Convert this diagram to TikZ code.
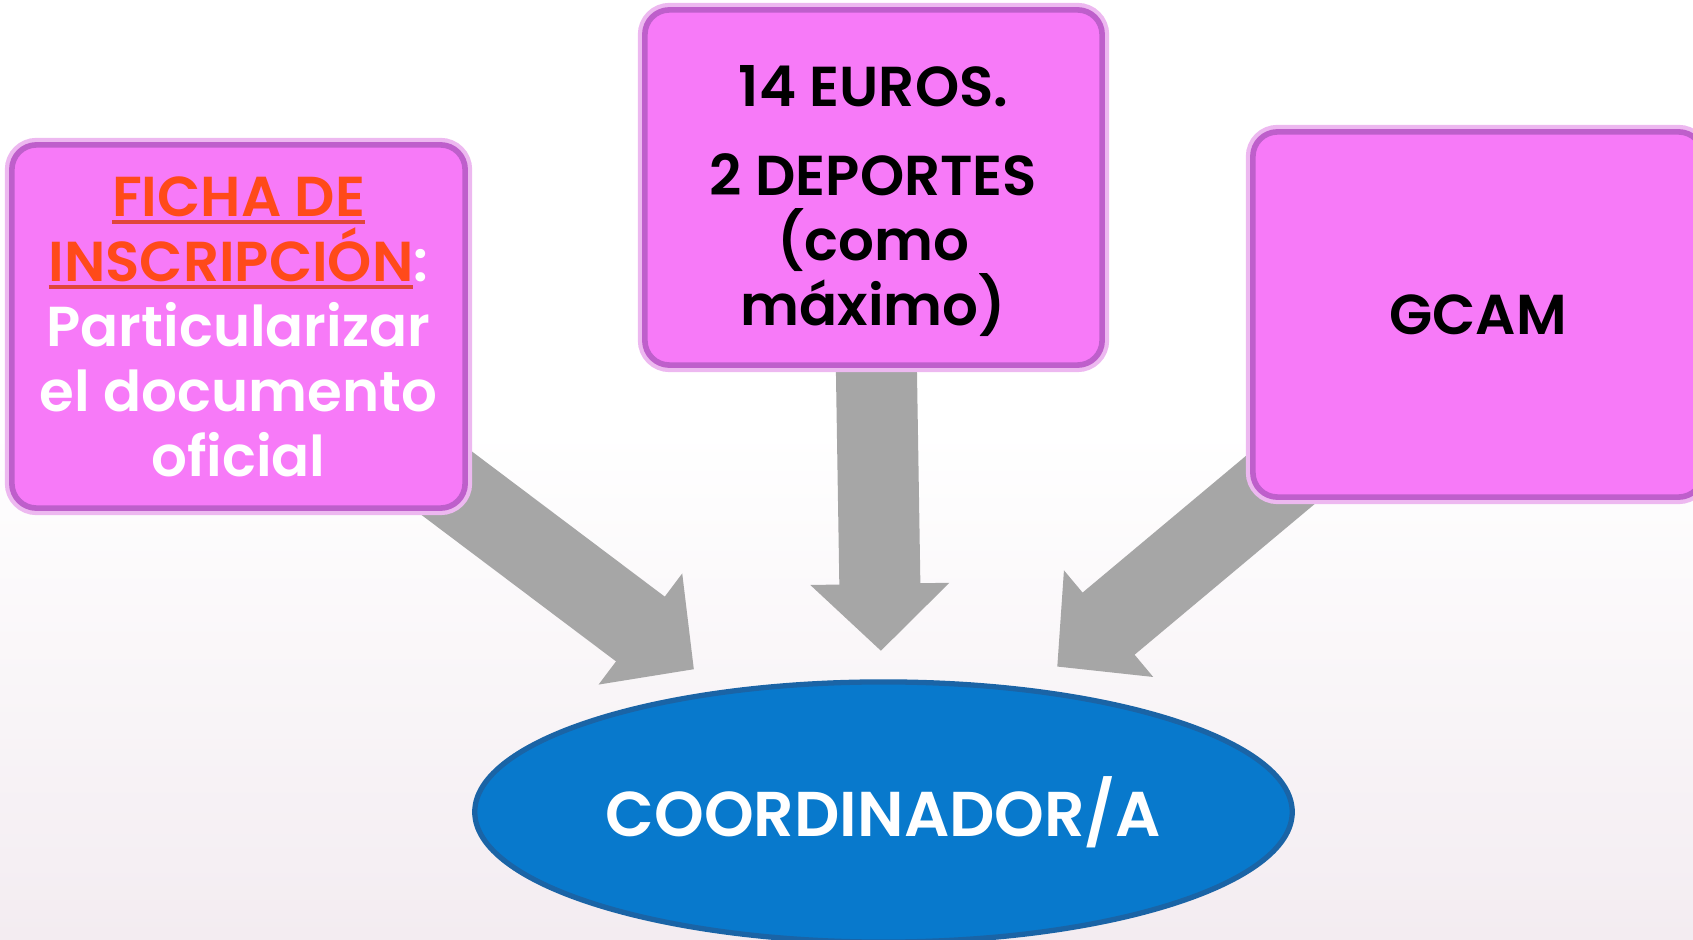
\documentclass[tikz,border=0pt]{standalone}
\usepackage{fontspec}
\setmainfont{Poppins}[BoldFont={Poppins SemiBold}]
\usepackage{tikz}
\usetikzlibrary{arrows.meta,positioning,shapes.geometric,backgrounds}
\definecolor{boxpink}{HTML}{F77AF8}
\definecolor{boxrim}{HTML}{BE5FCB}
\definecolor{boxhalo}{HTML}{EDB8F0}
\definecolor{coordblue}{HTML}{0879CC}
\definecolor{coordrim}{HTML}{1A64A6}
\definecolor{arrowgray}{HTML}{A6A6A6}
\definecolor{fichared}{HTML}{FF4A1A}
\definecolor{fichaline}{HTML}{E0453C}
\definecolor{hazefloor}{HTML}{F3ECF1}
\newcommand\fichaul[1]{\setbox0\hbox{#1}\rlap{\color{fichaline}\rule[-0.08cm]{\wd0}{0.045cm}}\box0}
\tikzset{
  card/.style={draw=boxrim,line width=1.6pt,fill=boxpink,rounded corners=7pt,
    align=center,inner sep=0pt,outer sep=0pt,
    font=\bfseries\fontsize{16}{18.5}\selectfont,
    preaction={draw=boxhalo,line width=4pt}},
  hub/.style={ellipse,draw=coordrim,line width=1.5pt,fill=coordblue,text=white,
    inner sep=0pt,outer sep=0pt,minimum width=8.17cm,minimum height=2.60cm,
    font=\bfseries\fontsize{18}{20}\selectfont},
  bigarrow/.style={draw=arrowgray,line width=0.81cm,-{Triangle[length=0.67cm,width=1.35cm]}}
}

\begin{document}
\begin{tikzpicture}[x=0.01cm,y=-0.01cm]
  \useasboundingbox (0,0) rectangle (1693,940);
  \clip (0,0) rectangle (1693,940);
  % boxes
  \node[card,minimum width=4.53cm,minimum height=3.63cm,text=white] (ficha) at (238.5,326.5)
    {\textcolor{fichared}{\fichaul{FICHA DE}}\\\textcolor{fichared}{\fichaul{INSCRIPCIÓN}}:\\Particularizar\\el documento\\oficial};
  \node[card,minimum width=4.57cm,minimum height=3.55cm] (euros) at (873.5,187.5)
    {\rule{0pt}{0.68cm}14 EUROS.\\[0.24cm]2 DEPORTES\\(como\\máximo)};
  \node[card,minimum width=4.50cm,minimum height=3.65cm] (gcam) at (1478,314.5) {GCAM};
  \node[hub] (coord) at (883.5,812) {COORDINADOR/A};
  % arrows
  \begin{scope}[on background layer]
    \fill[top color=white,bottom color=hazefloor] (0,430) rectangle (1693,940);
    \draw[bigarrow,shorten >=0.38cm] (ficha.center) -- (coord);
    \draw[bigarrow,shorten >=0.31cm] (euros.center) -- (coord);
    \draw[bigarrow,shorten >=0.37cm] (gcam.center) -- (coord);
  \end{scope}
\end{tikzpicture}
\end{document}
